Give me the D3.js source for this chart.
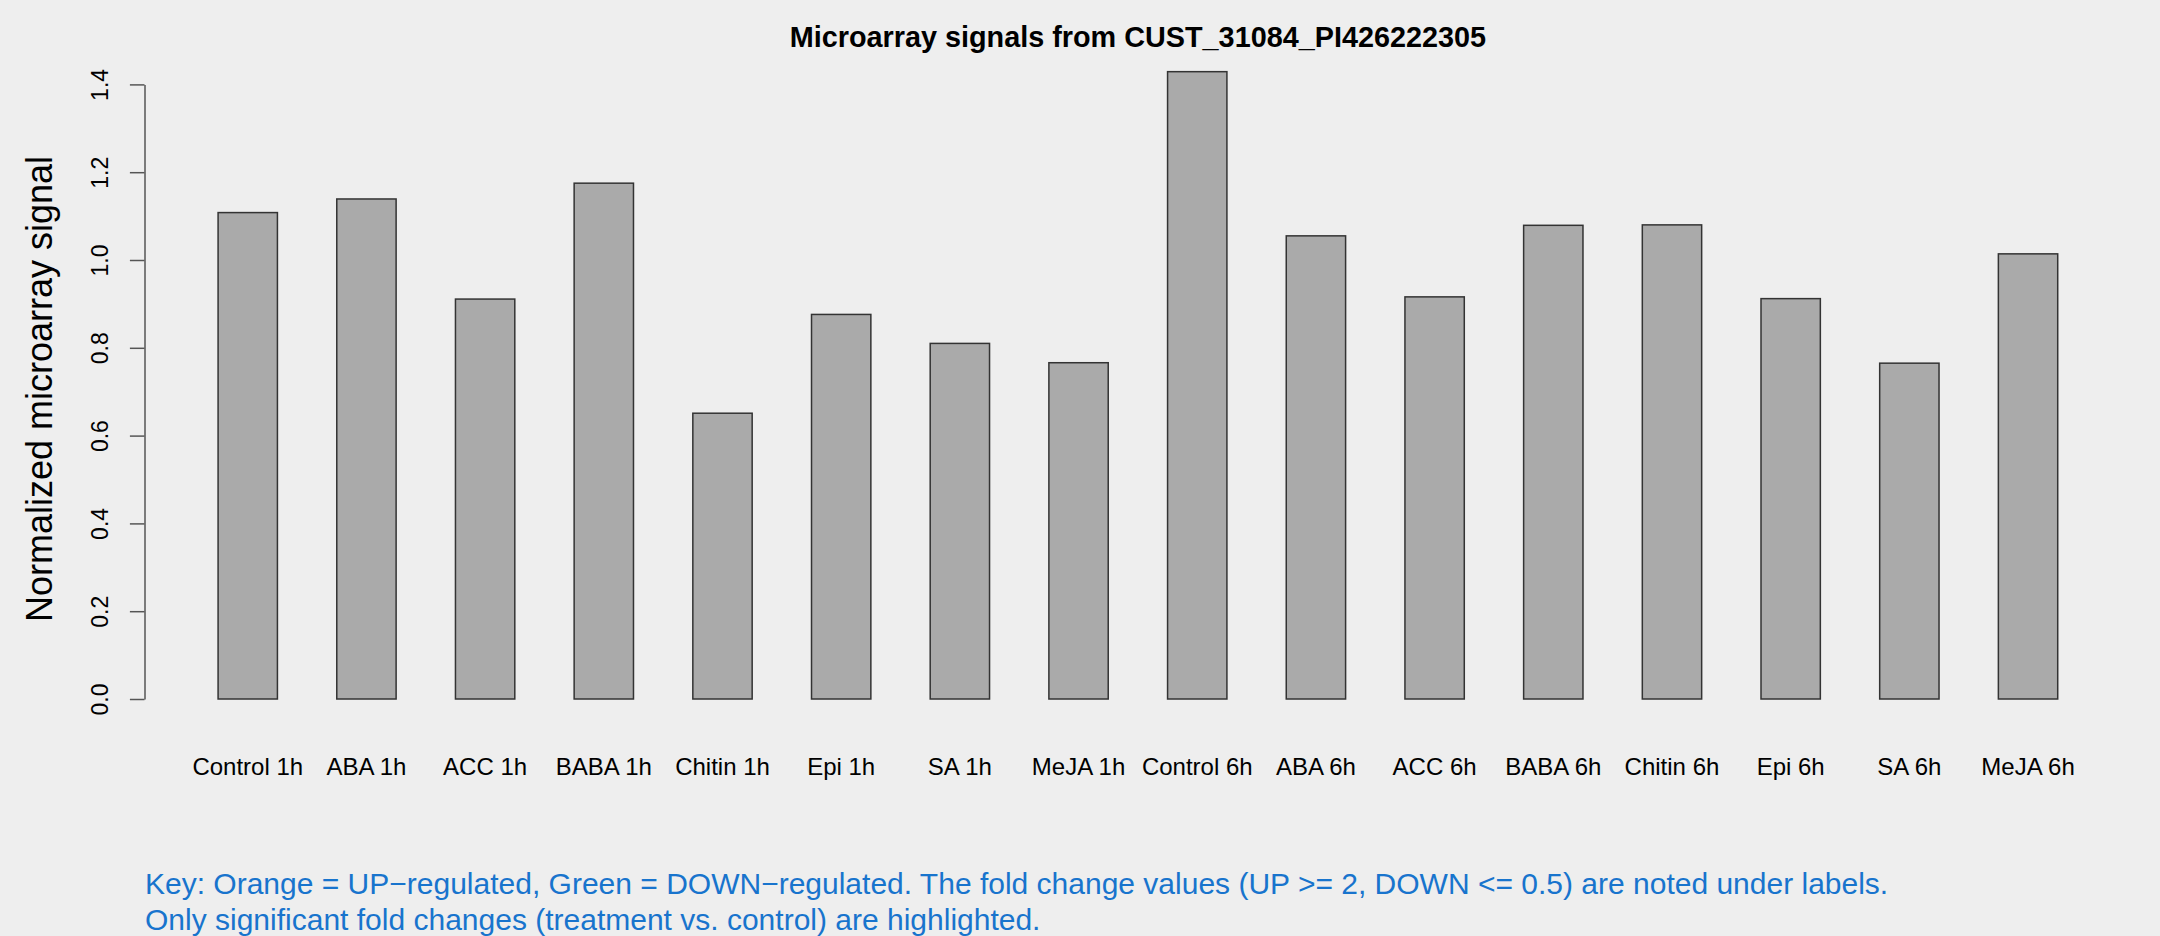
<!DOCTYPE html>
<html>
<head>
<meta charset="utf-8">
<script src="https://d3js.org/d3.v7.min.js"></script>
<style>
  body { margin: 0; background: #eeeeee; }
  svg { display: block; font-family: "Liberation Sans", Arial, Helvetica, sans-serif; }
</style>
</head>
<body>
<div id="chart"></div>
<script>
var categories = ["Control 1h", "ABA 1h", "ACC 1h", "BABA 1h", "Chitin 1h", "Epi 1h", "SA 1h", "MeJA 1h",
                  "Control 6h", "ABA 6h", "ACC 6h", "BABA 6h", "Chitin 6h", "Epi 6h", "SA 6h", "MeJA 6h"];
var signals = [1.108, 1.139, 0.911, 1.175, 0.651, 0.876, 0.810, 0.766,
               1.429, 1.055, 0.916, 1.079, 1.080, 0.912, 0.765, 1.014];
var yTicks = [0, 0.2, 0.4, 0.6, 0.8, 1.0, 1.2, 1.4];
var title = "Microarray signals from CUST_31084_PI426222305";
var yLabel = "Normalized microarray signal";
var keyLines = [
  "Key: Orange = UP\u2212regulated, Green = DOWN\u2212regulated. The fold change values (UP >= 2, DOWN <= 0.5) are noted under labels.",
  "Only significant fold changes (treatment vs. control) are highlighted."
];

var W = 2160, H = 936;

var svg = d3.select("#chart").append("svg")
  .attr("width", W)
  .attr("height", H);

svg.append("rect")
  .attr("width", W)
  .attr("height", H)
  .attr("fill", "#eeeeee");

// bar positions in R barplot units: bar i covers [2i+1, 2i+2]
var x = d3.scaleLinear()
  .domain([-0.24, 33.24])
  .range([144.5, 2131.3]);

var y = d3.scaleLinear()
  .domain([0, 1.4])
  .range([699, 84.4]);

// bars
svg.append("g")
  .selectAll("rect")
  .data(signals)
  .join("rect")
    .attr("x", function(d, i){ return x(2 * i + 1); })
    .attr("width", function(d, i){ return x(2 * i + 2) - x(2 * i + 1); })
    .attr("y", function(d){ return y(d); })
    .attr("height", function(d){ return y(0) - y(d); })
    .attr("fill", "#aaaaaa")
    .attr("stroke", "#333333")
    .attr("stroke-width", 1.5);

// y axis
var yAxis = d3.axisLeft(y)
  .tickValues(yTicks)
  .tickFormat(d3.format(".1f"))
  .tickSize(14.6)
  .tickSizeOuter(0);

var yg = svg.append("g")
  .attr("transform", "translate(" + x.range()[0] + ",0)")
  .call(yAxis);

yg.select(".domain").attr("stroke", "#555555").attr("stroke-width", 1.5);
yg.selectAll(".tick line").attr("stroke", "#555555").attr("stroke-width", 1.5);
yg.selectAll(".tick text")
  .attr("transform", "rotate(-90)")
  .attr("x", 0)
  .attr("y", -36.5)
  .attr("dy", 0)
  .attr("text-anchor", "middle")
  .attr("fill", "#000")
  .style("font-size", "23px");

// category labels
svg.append("g")
  .selectAll("text")
  .data(categories)
  .join("text")
    .attr("x", function(d, i){ return x(2 * i + 1.5); })
    .attr("y", 775)
    .attr("text-anchor", "middle")
    .style("font-size", "24px")
    .text(function(d){ return d; });

// title
svg.append("text")
  .attr("x", (x.range()[0] + x.range()[1]) / 2)
  .attr("y", 46.7)
  .attr("text-anchor", "middle")
  .style("font-size", "28.8px")
  .style("font-weight", "bold")
  .text(title);

// y label
svg.append("text")
  .attr("transform", "translate(51.7,389) rotate(-90)")
  .attr("text-anchor", "middle")
  .style("font-size", "36px")
  .text(yLabel);

// key
svg.append("g")
  .selectAll("text")
  .data(keyLines)
  .join("text")
    .attr("x", 145)
    .attr("y", function(d, i){ return 894 + i * 36; })
    .attr("fill", "#1874cd")
    .style("font-size", "30px")
    .text(function(d){ return d; });
</script>
</body>
</html>
